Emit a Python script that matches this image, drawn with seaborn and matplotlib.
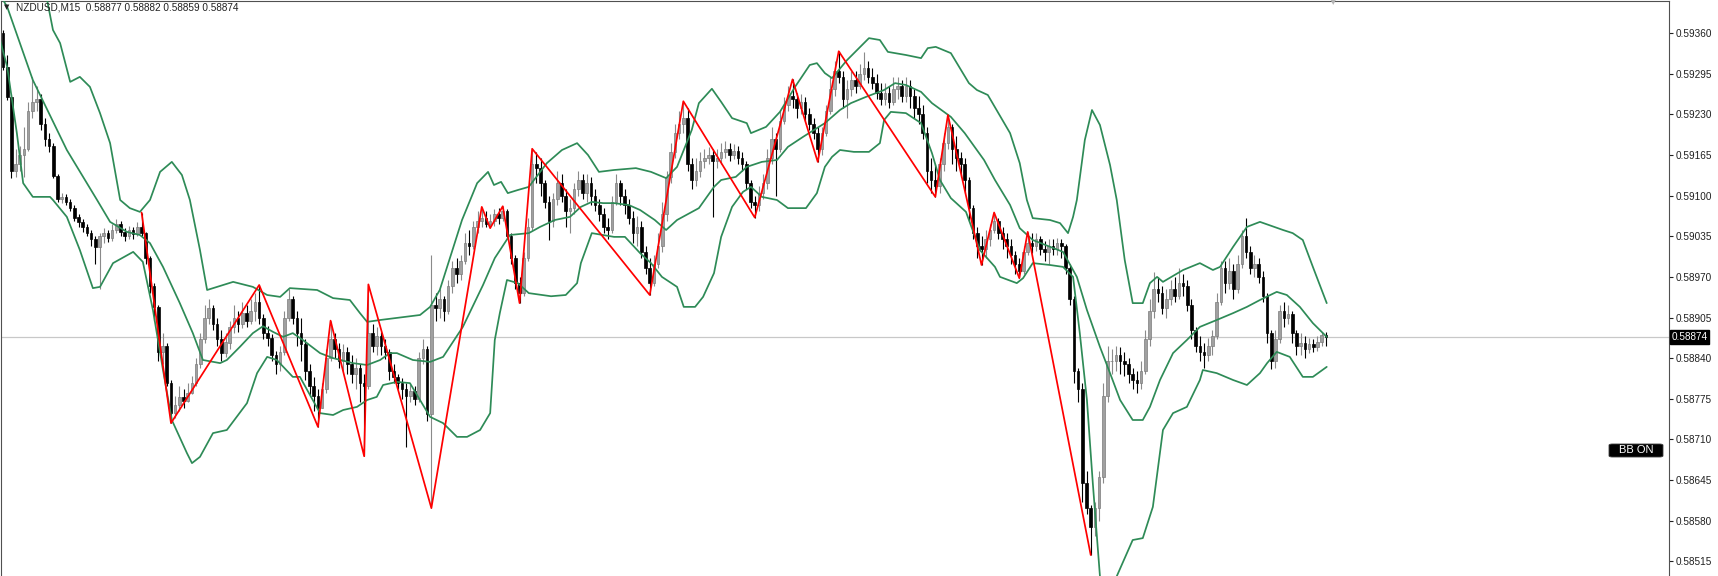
import numpy as np
import pandas as pd
import matplotlib
matplotlib.use('Agg')
import matplotlib.pyplot as plt
import matplotlib.transforms as mtransforms
from matplotlib.patches import FancyBboxPatch
import seaborn as sns

# prices are kept as points (0.00001) above 0.58000
BASE = 0.58

first_open = 1360
closes = [1306, 1258, 1140, 1150, 1165, 1175, 1235, 1250, 1255, 1215, 1190, 1180, 1132, 1095,
          1098, 1090, 1080, 1065, 1058, 1050, 1040, 1030, 1018, 1035, 1040, 1032, 1045, 1055,
          1042, 1035, 1045, 1038, 1050, 1040, 1000, 955, 922, 850, 860, 800, 752,
          765, 778, 772, 785, 800, 830, 870, 905, 920, 895, 870, 848, 865, 890, 905, 895, 912,
          900, 915, 930, 905,
          880, 872, 845, 830, 850, 905, 935, 905, 880, 862, 820, 795, 780, 760, 790, 840, 870,
          855, 835, 850, 830, 815, 825, 800, 795, 880,
          860, 875, 860, 850, 820, 810, 800, 790, 780, 788, 775, 840, 855, 750, 925,
          920, 935, 915, 955, 985, 975, 995, 1025, 1020, 1050, 1060, 1065, 1055, 1060, 1070,
          1065, 1075, 1035, 1000, 960, 945, 1000, 1050, 1150, 1145,
          1120, 1090, 1060, 1095, 1120, 1100, 1075, 1080, 1110, 1125, 1105, 1120, 1100, 1085,
          1070, 1050, 1045, 1090, 1120, 1100, 1085, 1065, 1040, 1050, 1010, 985, 960, 990, 1020,
          1070, 1130, 1170, 1200, 1215, 1225,
          1150, 1125, 1140, 1155, 1160, 1165, 1155, 1160, 1170, 1175, 1165, 1172, 1160, 1150,
          1120, 1090, 1085, 1105, 1120, 1160, 1190, 1175, 1220, 1245, 1260, 1255, 1240, 1250,
          1230, 1215, 1200, 1175, 1200, 1235, 1270, 1300, 1290,
          1255, 1270, 1285, 1275, 1295, 1305, 1290, 1280, 1265, 1255, 1265, 1250, 1270, 1275,
          1260, 1275, 1260, 1240, 1230, 1200, 1140, 1125, 1115, 1150, 1185, 1210, 1175, 1160,
          1150, 1125, 1080, 1040, 1020, 1015, 1030, 1045, 1060,
          1040, 1030, 1020, 1005, 990, 980, 1010, 1025, 1020, 1030, 1015, 1010, 1020, 1015, 1025,
          1020, 985, 935, 820, 790, 640, 600, 570, 600, 650, 780, 835,
          835, 845, 835, 830, 815, 805, 800, 820, 870, 915, 950, 945, 920, 935, 950, 940, 960,
          955, 925, 885, 860, 850, 845, 860, 875, 930, 985, 960, 980, 950, 990, 1035, 1010, 985,
          990, 970, 940, 880, 835, 870, 915, 905, 910, 880, 860, 865, 855, 862, 858, 866, 877, 874]
highs = [1365, 1325, 1262, 1175, 1180, 1210, 1250, 1290, 1275, 1262, 1225, 1200, 1185, 1135,
         1105, 1102, 1095, 1085, 1070, 1062, 1055, 1045, 1035, 1040, 1048, 1045, 1055, 1062,
         1060, 1048, 1052, 1050, 1058, 1073, 1042, 1003, 960, 925, 880, 865, 805,
         780, 795, 790, 800, 812, 840, 880, 925, 935, 925, 905, 885, 880, 900, 925, 915, 930,
         925, 935, 945, 957,
         910, 892, 878, 852, 860, 915, 950, 940, 915, 905, 870, 830, 810, 790, 800, 855, 900,
         880, 865, 862, 858, 845, 840, 830, 815, 958,
         895, 890, 882, 870, 855, 830, 815, 808, 800, 800, 795, 850, 870, 860, 1005,
         945, 950, 940, 965, 995, 1000, 1005, 1040, 1045, 1060, 1075, 1082, 1075, 1070, 1078,
         1080, 1083, 1078, 1040, 1005, 970, 1010, 1065, 1175, 1170,
         1160, 1125, 1100, 1105, 1140, 1135, 1110, 1095, 1120, 1140, 1135, 1135, 1130, 1110,
         1095, 1080, 1065, 1100, 1135, 1125, 1110, 1095, 1075, 1068, 1060, 1020, 1000, 1005, 1040,
         1090, 1140, 1185, 1215, 1235, 1251,
         1240, 1160, 1160, 1170, 1175, 1178, 1175, 1175, 1185, 1188, 1185, 1182, 1180, 1170,
         1155, 1125, 1100, 1115, 1135, 1175, 1210, 1200, 1235, 1258, 1275, 1286, 1265, 1262,
         1258, 1240, 1225, 1210, 1210, 1245, 1290, 1315, 1331,
         1300, 1285, 1300, 1300, 1310, 1330, 1315, 1305, 1295, 1280, 1280, 1275, 1290, 1290,
         1285, 1290, 1285, 1270, 1260, 1245, 1210, 1160, 1150, 1160, 1200, 1229, 1215, 1195,
         1170, 1160, 1130, 1085, 1050, 1035, 1045, 1055, 1073,
         1065, 1050, 1040, 1030, 1012, 1000, 1020, 1042, 1040, 1040, 1035, 1028, 1030, 1030, 1032,
         1030, 1022, 990, 940, 825, 800, 660, 605, 610, 660, 800, 860,
         855, 860, 858, 850, 840, 825, 820, 835, 885, 935, 978, 970, 955, 950, 965, 970, 985,
         975, 965, 935, 890, 875, 865, 872, 885, 945, 995, 995, 1000, 990, 1005, 1045, 1064, 1020,
         1005, 1000, 980, 945, 885, 885, 925, 930, 925, 915, 885, 880, 875, 872, 870, 875, 882, 882]
lows = [1301, 1253, 1128, 1130, 1140, 1130, 1172, 1225, 1235, 1205, 1180, 1170, 1128, 1090,
        1088, 1085, 1075, 1060, 1050, 1042, 1035, 1020, 990, 950, 1025, 1026, 1028, 1040,
        1035, 1028, 1030, 1030, 1035, 1035, 990, 945, 900, 835, 830, 795, 736,
        745, 755, 760, 770, 782, 795, 825, 865, 895, 885, 860, 835, 842, 855, 880, 882, 888,
        890, 895, 900, 895,
        870, 860, 835, 815, 820, 845, 900, 895, 860, 835, 805, 780, 755, 730, 760, 785, 835,
        840, 825, 820, 815, 800, 790, 770, 683, 790,
        850, 845, 845, 838, 805, 800, 790, 775, 698, 770, 765, 770, 830, 740, 600,
        900, 905, 900, 910, 945, 960, 965, 990, 1005, 1015, 1040, 1050, 1050, 1048, 1052,
        1055, 1060, 1030, 990, 950, 928, 940, 995, 1045, 1120,
        1100, 1080, 1029, 1050, 1085, 1090, 1050, 1040, 1070, 1100, 1095, 1090, 1085, 1075,
        1060, 1040, 1030, 1040, 1085, 1085, 1070, 1055, 1025, 1020, 1000, 975, 941, 955, 985,
        1010, 1060, 1120, 1160, 1190, 1200,
        1140, 1110, 1115, 1130, 1145, 1150, 1066, 1145, 1150, 1160, 1155, 1158, 1150, 1140,
        1110, 1080, 1065, 1075, 1095, 1110, 1150, 1100, 1170, 1215, 1235, 1240, 1225, 1230,
        1220, 1205, 1190, 1154, 1165, 1195, 1230, 1260, 1280,
        1240, 1225, 1260, 1265, 1270, 1285, 1280, 1270, 1255, 1245, 1245, 1240, 1245, 1255,
        1250, 1250, 1240, 1225, 1215, 1190, 1120, 1105, 1098, 1105, 1140, 1175, 1150, 1140,
        1130, 1105, 1060, 1030, 1000, 989, 1000, 1020, 1040,
        1030, 1015, 1000, 990, 975, 968, 975, 1005, 1008, 1012, 1005, 995, 990, 1005, 1005,
        1000, 975, 925, 800, 770, 610, 590, 525, 555, 580, 640, 770,
        815, 820, 815, 812, 800, 790, 785, 790, 815, 860, 905, 930, 910, 905, 925, 930, 935,
        940, 915, 870, 850, 835, 825, 835, 845, 870, 925, 945, 950, 935, 945, 985, 1000, 975,
        970, 960, 930, 865, 823, 825, 865, 890, 895, 865, 845, 845, 840, 848, 850, 852, 860, 859]

# Bollinger bands: (bar position, price points)
upper_x = [-0.7, 4.0, 10.5, 11.9, 13.6, 16.0, 18.3, 20.7, 23.1, 25.5, 27.9, 30.2, 32.6, 35.0,
           37.4, 40.2, 42.6, 44.5, 46.9, 48.6, 54.8, 59.5, 62.9, 66.0, 68.3, 74.8, 78.6, 82.6,
           85.0, 86.7, 89.8, 99.3, 101.7, 104.0, 109.3, 112.9, 115.5, 116.9, 118.6, 120.2,
           122.6, 125.2, 129.5, 133.1, 136.7, 139.3, 141.9, 145.5, 150.7, 154.3, 157.9, 160.5,
           164.0, 165.7, 168.8, 171.0, 173.6, 177.1, 178.1, 181.7, 185.0, 188.6, 192.1, 193.8,
           195.7, 197.4, 201.0, 206.2, 208.8, 210.7, 215.0, 218.6, 220.2, 222.1, 225.7, 230.0,
           231.9, 234.5, 239.8, 242.1, 243.8, 245.2, 249.3, 251.7, 253.6, 254.8, 255.7, 257.6,
           259.3, 261.2, 263.6, 265.2, 267.1, 269.0, 271.4, 273.1, 274.8, 276.2, 281.0, 285.0,
           288.1, 289.8, 292.9, 296.2, 299.3, 304.8, 307.1, 309.5, 311.9, 315.2]
upper_v = [1500, 1500, 1413, 1365, 1344, 1282, 1290, 1274, 1232, 1184, 1093, 1080, 1074, 1093,
           1138, 1154, 1133, 1093, 1013, 949, 962, 954, 941, 938, 952, 949, 936, 933,
           912, 898, 901, 909, 922, 949, 1061, 1120, 1138, 1117, 1122, 1104,
           1109, 1114, 1152, 1173, 1184, 1165, 1138, 1141, 1144, 1138, 1128, 1146,
           1205, 1248, 1271, 1250, 1224, 1216, 1200, 1210, 1234, 1274, 1309, 1312,
           1296, 1288, 1317, 1352, 1349, 1330, 1325, 1320, 1336, 1338, 1328, 1280,
           1269, 1261, 1200, 1152, 1093, 1064, 1061, 1056, 1040, 1066, 1093, 1189,
           1237, 1213, 1149, 1093, 997, 928, 928, 960, 970, 962, 981, 992,
           981, 986, 1018, 1050, 1058, 1045, 1040, 1029, 986, 928]
mid_x = [-0.7, 1.0, 7.1, 15.2, 22.4, 25.5, 29.5, 32.6, 35.0, 38.1, 42.1, 45.2, 47.6, 51.7, 53.3,
         56.4, 59.5, 61.9, 64.3, 66.7, 69.0, 71.4, 75.5, 78.6, 83.3, 86.7, 89.8, 92.1, 93.8, 97.6,
         101.7, 104.8, 109.5, 114.3, 117.1, 120.7, 125.2, 127.9, 131.4, 135.0, 137.6, 140.2,
         142.9, 145.5, 149.0, 151.7, 155.2, 157.9, 160.5, 165.7, 169.3, 171.0, 174.5, 177.1,
         180.7, 184.3, 186.9, 190.5, 195.7, 199.3, 201.9, 205.5, 209.8, 212.4, 215.0, 218.6,
         221.2, 225.7, 229.0, 233.6, 236.2, 239.8, 242.1, 245.2, 252.4, 255.7, 258.1, 261.2,
         263.6, 266.0, 269.0, 271.4, 273.1, 275.5, 278.6, 281.9, 285.0, 289.0, 292.9, 296.2,
         299.3, 303.3, 305.7, 308.8, 311.9, 315.2]
mid_v = [1421, 1402, 1285, 1173, 1093, 1058, 1042, 1037, 1024, 986, 928, 880, 837, 832, 837,
         858, 880, 891, 882, 874, 880, 869, 848, 840, 832, 829, 837, 848, 848, 837,
         834, 842, 890, 957, 1000, 1037, 1040, 1050, 1061, 1066, 1082, 1090,
         1088, 1088, 1085, 1077, 1061, 1045, 1061, 1080, 1114, 1125, 1130, 1146,
         1154, 1157, 1178, 1194, 1216, 1237, 1248, 1258, 1269, 1280, 1277, 1266,
         1248, 1226, 1200, 1157, 1125, 1085, 1048, 1029, 1010, 970, 917, 858,
         816, 773, 741, 741, 762, 805, 848, 869, 890, 901, 912, 922,
         933, 946, 941, 922, 896, 874]
lower_x = [-0.7, 1.0, 3.3, 4.8, 7.1, 11.2, 11.9, 15.2, 18.3, 21.4, 23.1, 26.2, 31.0, 33.3, 35.7,
           38.1, 40.2, 43.8, 45.0, 46.9, 50.0, 53.3, 58.1, 60.5, 62.9, 65.2, 69.0, 70.7, 75.5,
           78.6, 81.0, 84.3, 86.7, 89.0, 90.5, 93.8, 96.9, 101.7, 104.8, 108.1, 110.5, 113.6,
           116.0, 117.1, 118.3, 120.0, 122.6, 125.2, 130.5, 134.0, 136.7, 137.6, 140.2, 145.5,
           148.1, 151.7, 154.3, 156.9, 160.5, 162.1, 164.8, 166.7, 169.3, 171.0, 173.6, 176.2,
           178.1, 180.7, 184.3, 186.9, 191.2, 193.8, 195.7, 197.4, 199.3, 202.6, 206.2, 208.8,
           209.8, 211.4, 215.0, 218.6, 221.2, 223.1, 225.7, 229.3, 232.6, 236.2, 237.4, 241.4,
           242.9, 245.2, 249.3, 252.4, 254.8, 256.4, 258.1, 259.5, 261.2, 263.1, 265.2, 269.0,
           271.4, 273.8, 276.2, 278.6, 281.9, 285.0, 285.7, 289.0, 292.9, 296.2, 299.3, 301.0,
           303.3, 306.4, 309.5, 311.9, 315.2]
lower_v = [1349, 1306, 1200, 1120, 1098, 1098, 1093, 1066, 1013, 952, 954, 992, 1010, 994, 917,
           821, 741, 688, 672, 682, 720, 725, 768, 816, 842, 837, 810, 810, 752,
           749, 757, 762, 773, 778, 797, 802, 800, 746, 736, 714, 714, 725,
           752, 869, 912, 965, 960, 944, 939, 941, 960, 992, 1040, 1034,
           1034, 1008, 992, 970, 954, 922, 922, 938, 976, 1034, 1082, 1106,
           1114, 1098, 1093, 1080, 1080, 1104, 1146, 1162, 1173, 1170, 1170, 1184,
           1221, 1234, 1232, 1216, 1168, 1125, 1096, 1074, 1013, 986, 970, 960,
           968, 992, 989, 986, 970, 880, 773, 640, 491, 421, 491, 549,
           552, 602, 725, 752, 762, 805, 821, 816, 805, 797, 816, 832,
           850, 842, 810, 810, 826]

# ZigZag pivots (bar, price points)
zz_x = [33, 40, 61, 75, 78, 86, 87, 102, 114, 116, 119, 123, 126, 154, 162, 179, 188, 194, 199,
        222, 225, 233, 236, 242, 244, 259]
zz_v = [1073, 736, 957, 730, 900, 683, 958, 600, 1082, 1048, 1083, 928, 1175, 941, 1251, 1065,
        1286, 1154, 1331, 1098, 1229, 989, 1073, 968, 1042, 525]

tick_labels = ['0.59360', '0.59295', '0.59230', '0.59165', '0.59100', '0.59035', '0.58970',
               '0.58905', '0.58840', '0.58775', '0.58710', '0.58645', '0.58580', '0.58515']
last_price = '0.58874'
header = 'NZDUSD,M15  0.58877 0.58882 0.58859 0.58874'

assert len(closes) == len(highs) == len(lows)


def px(v):
    return BASE + np.asarray(v, dtype=float) / 1e5


df = pd.DataFrame({'close': px(closes), 'high': px(highs), 'low': px(lows)})
df['open'] = np.r_[px(first_open), df['close'].values[:-1]]
df['bar'] = np.arange(len(df))
df['bull'] = df['close'] >= df['open']

sns.set_style('white')
plt.rcParams['font.family'] = ['Liberation Sans', 'DejaVu Sans']

W, H = 1718, 576
fig = plt.figure(figsize=(W / 100, H / 100), dpi=100)
ax = fig.add_axes([1 / W, 0, 1668 / W, 575 / H])

# candles
for bull, wick_c, face_c, edge_c in [(True, '#8a8a8a', '#a0a0a0', '#7c7c7c'),
                                     (False, '#000000', '#000000', '#000000')]:
    d = df[df['bull'] == bull]
    ax.vlines(d['bar'], d['low'], d['high'], colors=wick_c, linewidth=0.8, zorder=2)
    body_lo = np.minimum(d['open'], d['close'])
    body_h = np.maximum((d['close'] - d['open']).abs(), 0.000012)
    ax.bar(d['bar'], body_h, bottom=body_lo, width=0.62, color=face_c,
           edgecolor=edge_c, linewidth=0.5, zorder=2)

# Bollinger bands
for bx, bv in [(upper_x, upper_v), (mid_x, mid_v), (lower_x, lower_v)]:
    sns.lineplot(x=bx, y=px(bv), ax=ax, color='#2e8b57', linewidth=1.25,
                 estimator=None, sort=False, legend=False, zorder=3)

# ZigZag
sns.lineplot(x=zz_x, y=px(zz_v), ax=ax, color='#ff0000', linewidth=1.25,
             estimator=None, sort=False, legend=False, zorder=4)

# last price line
ax.axhline(float(last_price), color='#c8c8c8', linewidth=0.9, zorder=1)

ax.set_xlim(-0.476, 396.7)
ax.set_ylim(0.584914, 0.594114)
ax.set_xticks([])
ax.yaxis.tick_right()
ax.set_yticks([float(t) for t in tick_labels])
ax.set_yticklabels(tick_labels)
ax.tick_params(axis='y', direction='out', length=3, width=0.8, pad=2,
               labelsize=7.2, colors='#202020')
ax.set_xlabel('')
ax.set_ylabel('')
for side in ['left', 'top', 'right']:
    ax.spines[side].set_visible(True)
    ax.spines[side].set_color('#505050')
    ax.spines[side].set_linewidth(0.8)
ax.spines['bottom'].set_visible(False)

trans = mtransforms.blended_transform_factory(ax.transAxes, ax.transData)
ax.text(1.0015, float(last_price), last_price, transform=trans, ha='left', va='center',
        fontsize=7.2, color='white', clip_on=False,
        bbox=dict(boxstyle='square,pad=0.18', fc='black', ec='black'))

# header
fig.text(4 / W, 1 - 7.5 / H, '\u25bc', fontsize=5, color='#202020', ha='left', va='center',
         family=['DejaVu Sans'])
fig.text(16 / W, 1 - 8 / H, header, fontsize=7.2, color='#202020', ha='left', va='center')
fig.text(1333 / W, 1 - 1.5 / H, '\u25bc', fontsize=6, color='#b4b4b4', ha='center',
         va='center', family=['DejaVu Sans'])

# "BB ON" button
fig.patches.append(FancyBboxPatch((1609 / W, 1 - 457 / H), 54 / W, 13 / H,
                                  boxstyle='round,pad=0,rounding_size=0.002',
                                  transform=fig.transFigure, fc='black', ec='#404040',
                                  linewidth=0.6))
fig.text(1636 / W, 1 - 450 / H, 'BB ON', fontsize=8, color='white', ha='center', va='center')

fig.savefig('out.png', dpi=100)
